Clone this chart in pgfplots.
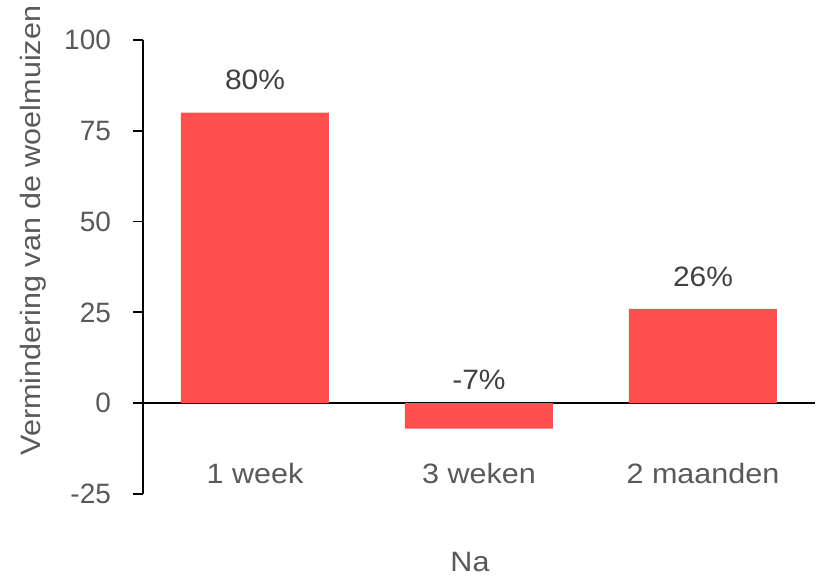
\documentclass[border=0pt]{standalone}
\usepackage{pgfplots}
\pgfplotsset{compat=1.18}
\usepackage{fontspec}
\setmainfont{Liberation Sans}
\newfontfamily\widefont[FakeStretch=1.09]{Liberation Sans}
\newfontfamily\labfont[FakeStretch=1.07]{Liberation Sans}
\definecolor{barred}{HTML}{FF5050}
\definecolor{ticktext}{HTML}{595959}
\definecolor{labtext}{HTML}{404040}
\begin{document}
\begin{tikzpicture}
\path[use as bounding box] (-71.5pt,-42pt) rectangle (339pt,247pt);
\begin{axis}[
  at={(0,0)}, anchor=south west,
  scale only axis,
  width=336pt, height=227pt,
  xmin=-0.5, xmax=2.5,
  ymin=-25, ymax=100,
  axis x line=middle,
  axis y line=left,
  axis line style={-, black, line width=0.9pt},
  ytick={-25,0,25,50,75,100},
  tick align=outside,
  major tick length=5pt,
  tick style={black, line width=0.9pt},
  xtick={0,1,2},
  xticklabels={1 week,3 weken,2 maanden},
  major x tick style={draw=none},
  extra x ticks={0.5,1.5,2.5},
  extra x tick labels={},
  extra x tick style={major tick length=5pt, tick align=outside, tick style={black, line width=0.9pt}},
  xticklabel style={anchor=center, yshift=-30pt, font=\widefont\fontsize{14}{16}\selectfont, text=ticktext},
  yticklabel style={xshift=-7.5pt, font=\fontsize{14}{16}\selectfont, text=ticktext},
  /pgf/number format/assume math mode=true,
  xlabel={Na},
  ylabel={Vermindering van de woelmuizen},
  xlabel style={at={(axis description cs:0.4866,-0.15)}, anchor=center, font=\widefont\fontsize{14}{16}\selectfont, text=ticktext},
  ylabel style={at={(axis description cs:-0.1637,0.58)}, anchor=center, rotate=0, font=\widefont\fontsize{14}{16}\selectfont, text=ticktext},
  clip=false,
]
\addplot[ybar, bar width=74pt, fill=barred, draw=none] coordinates {(0,80) (1,-7) (2,26)};
\node[anchor=center, text=labtext, font=\labfont\fontsize{14}{16}\selectfont] at (axis cs:0,88.9) {80\%};
\node[anchor=center, text=labtext, font=\labfont\fontsize{14}{16}\selectfont] at (axis cs:1,6.3) {-7\%};
\node[anchor=center, text=labtext, font=\labfont\fontsize{14}{16}\selectfont] at (axis cs:2,34.7) {26\%};
\end{axis}
\end{tikzpicture}
\end{document}
